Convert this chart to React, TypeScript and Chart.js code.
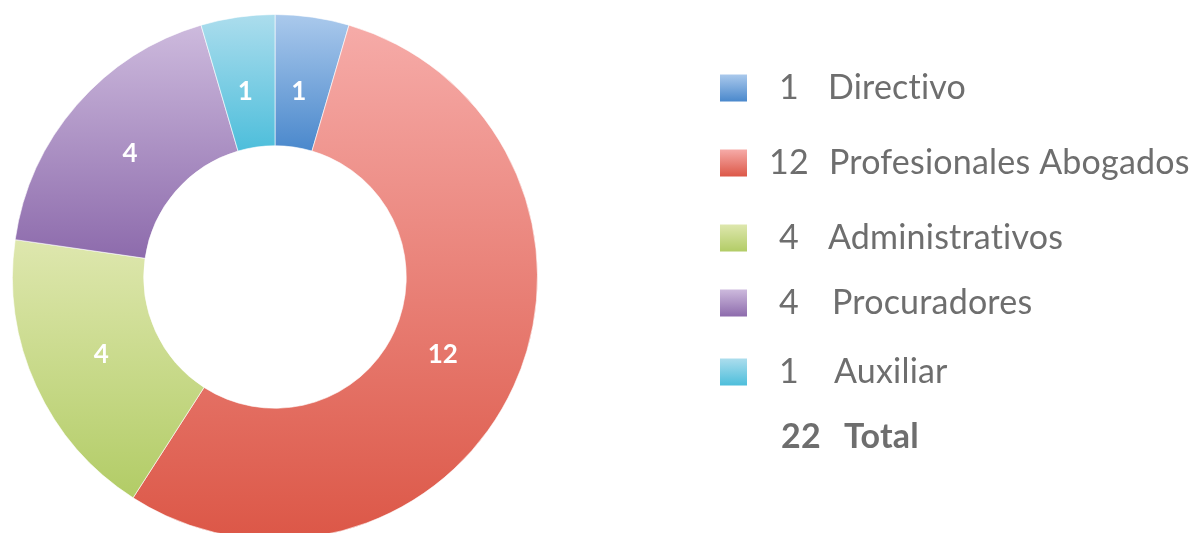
import React, { useEffect, useRef } from "react";
import { Chart, registerables } from "chart.js";

Chart.register(...registerables);

const categories = ["Directivo", "Profesionales Abogados", "Administrativos", "Procuradores", "Auxiliar"];
const values = [1, 12, 4, 4, 1];
const topColors = ["#aac9ec", "#f6aba8", "#dee7ae", "#cdbadd", "#acdded"];
const bottomColors = ["#4a88cc", "#dc5747", "#b2cc66", "#8d6bac", "#4dbedb"];
const totalValue = 22;
const totalLabel = "Total";

const FONT = "Lato, 'Open Sans', sans-serif";
const TEXT_COLOR = "#6e6e6e";

function sliceGradient(c: any) {
  const chart = c.chart;
  const i = c.dataIndex;
  if (i === undefined || i === null) return topColors[0];
  const area = chart.chartArea;
  if (!area) return topColors[i];
  const meta = chart.getDatasetMeta(0);
  const ctrl: any = meta && meta.controller;
  const cx = (area.left + area.right) / 2 + ((ctrl && ctrl.offsetX) || 0);
  const cy = (area.top + area.bottom) / 2 + ((ctrl && ctrl.offsetY) || 0);
  const R = ctrl && ctrl.outerRadius ? ctrl.outerRadius : Math.min(area.width, area.height) / 2;
  const r = ctrl && ctrl.innerRadius ? ctrl.innerRadius : R * 0.5;
  const total = values.reduce((a, b) => a + b, 0);
  let before = 0;
  for (let k = 0; k < i; k++) before += values[k];
  const a0 = -Math.PI / 2 + (before / total) * Math.PI * 2;
  const a1 = a0 + (values[i] / total) * Math.PI * 2;
  const ys = [cy + R * Math.sin(a0), cy + R * Math.sin(a1), cy + r * Math.sin(a0), cy + r * Math.sin(a1)];
  if (a0 <= Math.PI / 2 && a1 >= Math.PI / 2) ys.push(cy + R);
  if (a0 <= -Math.PI / 2 || a1 >= (3 * Math.PI) / 2) ys.push(cy - R);
  const minY = Math.min(...ys);
  const maxY = Math.max(...ys);
  const g = chart.ctx.createLinearGradient(cx * 0, minY, 0, maxY);
  g.addColorStop(0, topColors[i]);
  g.addColorStop(1, bottomColors[i]);
  return g;
}

const sliceLabels = {
  id: "sliceLabels",
  afterDatasetsDraw(chart: any) {
    const ctx = chart.ctx;
    const meta = chart.getDatasetMeta(0);
    ctx.save();
    ctx.fillStyle = "#ffffff";
    ctx.font = `bold 26px ${FONT}`;
    ctx.textAlign = "center";
    ctx.textBaseline = "middle";
    meta.data.forEach((arc: any, i: number) => {
      const p = arc.getProps(["x", "y", "startAngle", "endAngle", "innerRadius", "outerRadius"], true);
      const mid = (p.startAngle + p.endAngle) / 2;
      const rr = p.innerRadius + 0.43 * (p.outerRadius - p.innerRadius);
      ctx.fillText(String(values[i]), p.x + rr * Math.cos(mid) - 3, p.y + rr * Math.sin(mid));
    });
    ctx.restore();
  },
};

const sideLegend = {
  id: "sideLegend",
  afterDraw(chart: any) {
    const ctx = chart.ctx;
    const rowY = [88, 163, 238, 303, 372];
    const labelX = [828, 829, 828, 832, 834];
    const boxX = 720;
    const boxS = 27;
    const numX = 789;
    ctx.save();
    try {
      (ctx as any).letterSpacing = "0.2px";
    } catch (e) {}
    ctx.textBaseline = "middle";
    categories.forEach((cat, i) => {
      const y = rowY[i];
      const g = ctx.createLinearGradient(0, y - boxS / 2, 0, y + boxS / 2);
      g.addColorStop(0, topColors[i]);
      g.addColorStop(1, bottomColors[i]);
      ctx.fillStyle = g;
      ctx.fillRect(boxX, y - boxS / 2, boxS, boxS);
      ctx.fillStyle = TEXT_COLOR;
      ctx.font = `34px ${FONT}`;
      ctx.textAlign = "center";
      ctx.fillText(String(values[i]), numX, y);
      ctx.textAlign = "left";
      ctx.fillText(cat, labelX[i], y);
    });
    ctx.fillStyle = TEXT_COLOR;
    ctx.font = `bold 34px ${FONT}`;
    ctx.textAlign = "left";
    ctx.fillText(String(totalValue), 781, 437);
    ctx.fillText(totalLabel, 844, 437);
    ctx.restore();
  },
};

export default function App() {
  const ref = useRef<HTMLCanvasElement | null>(null);
  useEffect(() => {
    if (!ref.current) return;
    const chart = new Chart(ref.current, {
      type: "doughnut",
      data: {
        labels: categories,
        datasets: [
          {
            data: values,
            backgroundColor: sliceGradient as any,
            borderColor: "rgba(255,255,255,0.6)",
            borderWidth: 1,
          },
        ],
      },
      options: {
        responsive: true,
        maintainAspectRatio: false,
        animation: false,
        cutout: "50%",
        layout: { padding: { left: 12, top: 14, right: 655, bottom: 20 } },
        plugins: { legend: { display: false }, tooltip: { enabled: false } },
      },
      plugins: [sliceLabels, sideLegend],
    });
    return () => chart.destroy();
  }, []);
  return (
    <div style={{ position: "fixed", left: 0, top: 0, width: 1193, height: 533, overflow: "hidden", background: "#fff" }}>
      <div style={{ position: "relative", width: 1193, height: 560 }}>
        <canvas ref={ref} />
      </div>
    </div>
  );
}
